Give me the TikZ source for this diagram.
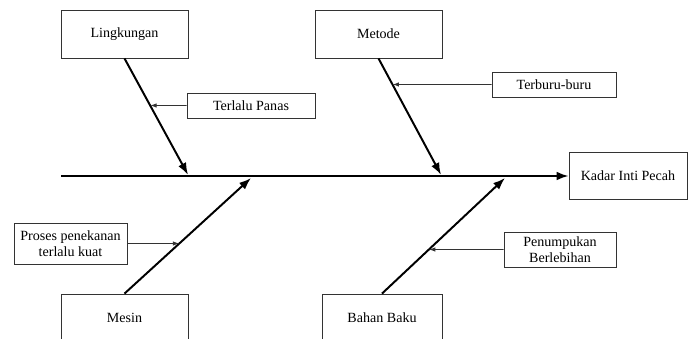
\documentclass[tikz,border=0pt]{standalone}
\usepackage{fontspec}
\setmainfont{Liberation Serif}
\usetikzlibrary{positioning, arrows.meta}
\definecolor{bonegray}{HTML}{333333}

\begin{document}
\begin{tikzpicture}[
        box/.style={draw=bonegray, line width=0.6pt, minimum width=3.175cm, minimum height=1.2cm,
          text centered, font=\fontsize{10}{11.5}\selectfont},
        subbox/.style={draw=bonegray, line width=0.6pt, minimum height=0.625cm, inner sep=1pt,
          align=center, font=\fontsize{10}{11.5}\selectfont},
        bone/.style={line width=1.4pt, -{Latex[length=3mm, width=2.2mm]}},
        twig/.style={line width=0.6pt, bonegray, -{Latex[length=1.6mm, width=1.1mm]}}]
      \clip (0,0) rectangle (17.225,8.45);
      % Main categories
      \node[box] (lingkungan) at (3.1125,7.6) {Lingkungan};
      \node[box] (metode) at (9.4625,7.6) {Metode};
      \node[box] (mesin) at (3.1125,0.5) {Mesin};
      \node[box, minimum width=3cm] (bahan) at (9.55,0.5) {Bahan Baku};
      \node[box, minimum width=2.95cm, minimum height=1.175cm] (kadar) at (15.7,4.05) {Kadar Inti Pecah};

      % Causes
      \node[subbox, minimum width=3.2cm] (panas) at (6.275,5.8125) {Terlalu Panas};
      \node[subbox, minimum width=3.1cm] (buru) at (13.85,6.3375) {Terburu-buru};
      \node[subbox, minimum width=2.825cm, minimum height=1.025cm] (proses) at (1.7625,2.3625)
        {Proses penekanan\\terlalu kuat};
      \node[subbox, minimum width=2.8cm, minimum height=0.875cm] (tumpuk) at (14.0,2.2125)
        {Penumpukan\\Berlebihan};

      % Spine
      \coordinate (start) at (1.525,4.05);
      \coordinate (l1) at (4.7,4.08);
      \coordinate (m1) at (11.025,4.08);
      \coordinate (s1) at (6.275,4.0);
      \coordinate (b1) at (12.625,4.0);
      \draw[bone] (start) -- (kadar.west);

      \draw[bone] (lingkungan.south) -- (l1);
      \draw[bone] (metode.south) -- (m1);
      \draw[bone] (mesin.north) -- (s1);
      \draw[bone] (bahan.north) -- (b1);

      \draw[twig] (panas.west) -- (intersection of panas.west--panas.east and lingkungan.south--l1);
      \draw[twig] (buru.west) -- (intersection of buru.west--buru.east and metode.south--m1);
      \draw[twig] (proses.east) -- (intersection of proses.west--proses.east and mesin.north--s1);
      \draw[twig] (tumpuk.west) -- (intersection of tumpuk.west--tumpuk.east and bahan.north--b1);
    \end{tikzpicture}
\end{document}
